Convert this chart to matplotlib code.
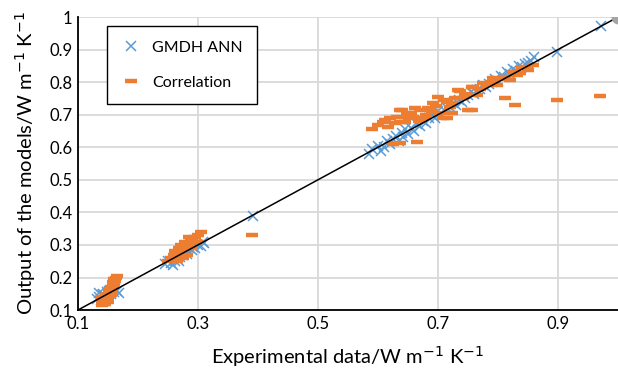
import matplotlib.pyplot as plt
from matplotlib.ticker import FixedLocator

plt.rcParams['font.family'] = ['Lato', 'DejaVu Sans']

# GMDH ANN predictions (experimental, model)
gmdh_x = [0.132, 0.135, 0.138, 0.140, 0.142, 0.145, 0.148, 0.150, 0.152, 0.155,
          0.158, 0.160, 0.162, 0.165, 0.168, 0.136, 0.140,
          0.245, 0.250, 0.255, 0.260, 0.262, 0.265, 0.270, 0.272, 0.275, 0.280,
          0.282, 0.285, 0.290, 0.292, 0.295, 0.300, 0.305, 0.308, 0.310, 0.258, 0.268,
          0.392,
          0.585, 0.590, 0.600, 0.605, 0.610, 0.615, 0.620, 0.625, 0.630, 0.635, 0.640,
          0.642, 0.645, 0.650, 0.655, 0.660, 0.665, 0.670, 0.675, 0.680, 0.685,
          0.690, 0.695, 0.700, 0.705, 0.710, 0.715, 0.720, 0.725, 0.730, 0.735,
          0.740, 0.745, 0.750, 0.755, 0.760, 0.765, 0.770, 0.775, 0.780, 0.785,
          0.790, 0.795, 0.800, 0.805, 0.810, 0.815, 0.820, 0.825, 0.830, 0.835,
          0.840, 0.845, 0.850, 0.855, 0.860, 0.898, 0.972]
gmdh_y = [0.135, 0.140, 0.130, 0.145, 0.150, 0.140, 0.155, 0.148, 0.160, 0.150,
          0.162, 0.155, 0.165, 0.158, 0.152, 0.152, 0.128,
          0.240, 0.250, 0.245, 0.260, 0.252, 0.265, 0.262, 0.275, 0.270, 0.280,
          0.272, 0.290, 0.285, 0.295, 0.290, 0.300, 0.298, 0.310, 0.305, 0.238, 0.250,
          0.390,
          0.580, 0.595, 0.605, 0.590, 0.600, 0.620, 0.610, 0.625, 0.635, 0.620, 0.645,
          0.630, 0.655, 0.640, 0.660, 0.650, 0.670, 0.665, 0.680, 0.675, 0.690,
          0.700, 0.690, 0.710, 0.700, 0.715, 0.720, 0.725, 0.735, 0.730, 0.745,
          0.740, 0.750, 0.760, 0.770, 0.765, 0.775, 0.780, 0.790, 0.785, 0.795,
          0.800, 0.810, 0.805, 0.820, 0.815, 0.830, 0.825, 0.840, 0.835, 0.850,
          0.845, 0.855, 0.860, 0.865, 0.877, 0.892, 0.972]

# Correlation predictions (experimental, model)
corr_x = [0.140, 0.142, 0.145, 0.140, 0.143, 0.146, 0.145, 0.148, 0.150, 0.147,
          0.150, 0.152, 0.155, 0.153, 0.156, 0.158, 0.160, 0.158, 0.162, 0.160,
          0.163, 0.165, 0.140, 0.150, 0.155,
          0.250, 0.255, 0.258, 0.260, 0.265, 0.262, 0.270, 0.268, 0.275, 0.272,
          0.280, 0.278, 0.285, 0.290, 0.288, 0.295, 0.300, 0.305, 0.282, 0.290,
          0.300, 0.265, 0.285, 0.275,
          0.390,
          0.590, 0.620, 0.628, 0.640, 0.648, 0.645, 0.670, 0.675, 0.700, 0.692,
          0.703, 0.715, 0.665, 0.637, 0.625, 0.737, 0.757, 0.782, 0.812, 0.850,
          0.858, 0.757, 0.708, 0.637, 0.648, 0.608, 0.617, 0.637, 0.658, 0.687,
          0.723, 0.742, 0.765, 0.798, 0.820, 0.832, 0.715, 0.733, 0.758, 0.775,
          0.837, 0.812, 0.828, 0.750, 0.723, 0.792, 0.840, 0.898, 0.970,
          0.600, 0.612, 0.632, 0.655, 0.662, 0.680, 0.683, 0.697, 0.710, 0.728,
          0.745, 0.770, 0.788, 0.805, 0.825, 0.845, 0.652, 0.668, 0.690, 0.720]
corr_y = [0.115, 0.120, 0.118, 0.125, 0.130, 0.128, 0.135, 0.140, 0.138, 0.145,
          0.150, 0.155, 0.160, 0.165, 0.170, 0.175, 0.180, 0.185, 0.190, 0.195,
          0.200, 0.205, 0.140, 0.125, 0.145,
          0.250, 0.260, 0.255, 0.270, 0.265, 0.280, 0.275, 0.290, 0.285, 0.300,
          0.295, 0.310, 0.305, 0.315, 0.320, 0.325, 0.330, 0.340, 0.270, 0.290,
          0.310, 0.250, 0.325, 0.260,
          0.330,
          0.656, 0.690, 0.674, 0.714, 0.699, 0.677, 0.714, 0.690, 0.754, 0.736,
          0.705, 0.690, 0.616, 0.613, 0.610, 0.773, 0.785, 0.791, 0.816, 0.837,
          0.852, 0.714, 0.690, 0.714, 0.705, 0.677, 0.662, 0.677, 0.693, 0.714,
          0.736, 0.751, 0.760, 0.790, 0.806, 0.822, 0.739, 0.776, 0.785, 0.797,
          0.828, 0.751, 0.730, 0.714, 0.705, 0.812, 0.843, 0.745, 0.757,
          0.668, 0.684, 0.692, 0.705, 0.720, 0.700, 0.722, 0.728, 0.745, 0.752,
          0.765, 0.778, 0.800, 0.810, 0.832, 0.848, 0.690, 0.680, 0.710, 0.725]

xticks = [0.1, 0.3, 0.5, 0.7, 0.9]
yticks = [0.1, 0.2, 0.3, 0.4, 0.5, 0.6, 0.7, 0.8, 0.9, 1.0]
ytick_labels = ['0.1', '0.2', '0.3', '0.4', '0.5', '0.6', '0.7', '0.8', '0.9', '1']

fig = plt.figure(figsize=(6.18, 3.70), dpi=100)
ax = fig.add_axes([0.126, 0.162, 0.874, 0.792])

ax.plot(gmdh_x, gmdh_y, 'x', color='#5B9BD5', ms=7, mew=1.1, label='GMDH ANN', zorder=3)
ax.plot(corr_x, corr_y, '_', color='#ED7D31', ms=8.5, mew=3.2, label='Correlation', zorder=3)
ax.plot([0.1, 1.0], [0.1, 1.0], color='black', lw=1.1, zorder=4)
ax.plot([1.0], [1.0], 'o', color='#A5A5A5', ms=9, zorder=5)

ax.set_xlim(0.1, 1.0)
ax.set_ylim(0.1, 1.0)
ax.xaxis.set_major_locator(FixedLocator(xticks))
ax.set_yticks(yticks)
ax.set_yticklabels(ytick_labels)
ax.tick_params(length=0, labelsize=12, pad=4)
ax.grid(True, color='#D9D9D9', lw=1.3)
ax.set_axisbelow(True)
for s in ['top', 'right']:
    ax.spines[s].set_visible(False)
ax.spines['left'].set_linewidth(1.3)
ax.spines['bottom'].set_linewidth(1.3)

ax.set_xlabel('Experimental data/W m$^{-1}$ K$^{-1}$', fontsize=14.5, labelpad=9)
ax.set_ylabel('Output of the models/W m$^{-1}$ K$^{-1}$', fontsize=14.5, labelpad=8)

leg = ax.legend(loc='upper left', bbox_to_anchor=(0.054, 0.969), fontsize=11.5,
                fancybox=False, edgecolor='black', framealpha=1,
                borderpad=0.9, labelspacing=1.3, handletextpad=0.7,
                handlelength=1.2, borderaxespad=0)
leg.get_frame().set_linewidth(1.0)

fig.savefig('out.png', dpi=100)
